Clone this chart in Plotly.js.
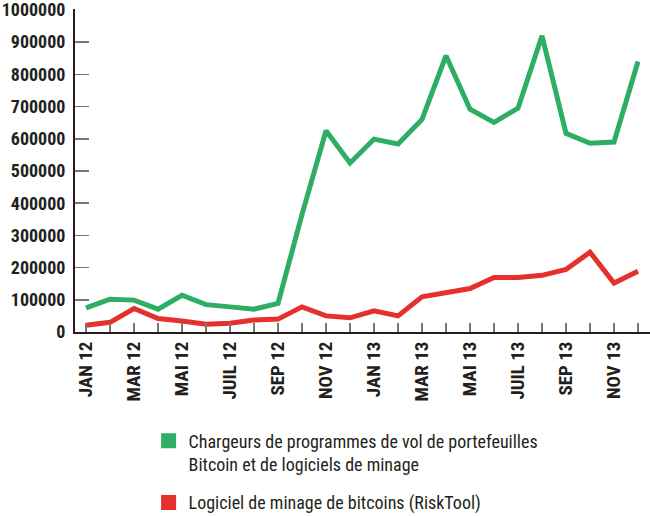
<!DOCTYPE html>
<html>
<head>
<meta charset="utf-8">
<script src="https://cdn.plot.ly/plotly-3.0.1.min.js"></script>
<style>
  html, body { margin: 0; padding: 0; background: white; }
  #chart { width: 650px; height: 516px; }
  #chart text { font-stretch: condensed; }
</style>
</head>
<body>
<div id="chart"></div>
<script>
// Mois (janv. 2012 - déc. 2013)
const months = [
    'JAN 12', 'FEV 12', 'MAR 12', 'AVR 12', 'MAI 12', 'JUIN 12',
    'JUIL 12', 'AOU 12', 'SEP 12', 'OCT 12', 'NOV 12', 'DEC 12',
    'JAN 13', 'FEV 13', 'MAR 13', 'AVR 13', 'MAI 13', 'JUIN 13',
    'JUIL 13', 'AOU 13', 'SEP 13', 'OCT 13', 'NOV 13', 'DEC 13'
];

// Chargeurs de programmes de vol de portefeuilles
const stealers = [
    75000, 102000, 99000, 71000, 114000, 85000,
    78000, 71000, 89000, 365000, 625000, 525000,
    599000, 584000, 660000, 858000, 692000, 651000,
    695000, 920000, 617000, 586000, 590000, 840000
];

// Logiciel de minage (RiskTool)
const miners = [
    21000, 30000, 73000, 42000, 34000, 24000,
    27000, 37000, 40000, 78000, 50000, 44000,
    66000, 50000, 109000, 122000, 135000, 169000,
    169000, 176000, 194000, 248000, 152000, 189000
];

const yTicks = [0, 100000, 200000, 300000, 400000, 500000, 600000, 700000, 800000, 900000, 1000000];

const legendNames = [
    'Chargeurs de programmes de vol de portefeuilles<br>Bitcoin et de logiciels de minage',
    'Logiciel de minage de bitcoins (RiskTool)'
];

const GREEN = '#2eae64';
const RED = '#e5302d';
const FONT = '"Roboto Condensed", "DejaVu Sans Condensed", "Liberation Sans Narrow", Roboto, sans-serif';

const traces = [
    {
        x: months, y: stealers, type: 'scatter', mode: 'lines',
        line: { color: GREEN, width: 5 }, showlegend: false, hoverinfo: 'skip'
    },
    {
        x: months, y: miners, type: 'scatter', mode: 'lines',
        line: { color: RED, width: 5 }, showlegend: false, hoverinfo: 'skip'
    },
    // légende avec des carrés
    {
        x: [null], y: [null], type: 'scatter', mode: 'markers', name: legendNames[0],
        legendgroup: 'a',
        marker: { symbol: 'square', size: 15, color: GREEN }
    },
    {
        x: [null], y: [null], type: 'scatter', mode: 'markers', name: legendNames[1],
        legendgroup: 'b',
        marker: { symbol: 'square', size: 15, color: RED }
    }
];

const layout = {
    width: 650,
    height: 516,
    margin: { l: 75, r: 0, t: 9, b: 184, autoexpand: false },
    plot_bgcolor: 'white',
    paper_bgcolor: 'white',
    font: { family: FONT, color: '#231f20' },
    xaxis: {
        type: 'category',
        categoryorder: 'array',
        categoryarray: months,
        range: [-0.46, 23.5],
        tickvals: months,
        ticktext: months.map((m, i) => (i % 2 ? '' : m)),
        tickangle: -90,
        ticks: 'inside',
        ticklen: 9,
        tickwidth: 1.5,
        tickcolor: '#777777',
        showline: true,
        linecolor: '#231f20',
        linewidth: 2,
        showgrid: false,
        zeroline: false,
        ticklabeloverflow: 'allow',
        tickfont: { family: FONT, size: 19, color: '#231f20', weight: 'bold' }
    },
    yaxis: {
        range: [0, 1003000],
        tickvals: yTicks,
        ticktext: yTicks.map(String),
        ticks: 'inside',
        ticklen: 14,
        tickwidth: 1.5,
        tickcolor: '#777777',
        showline: true,
        linecolor: '#231f20',
        linewidth: 2,
        showgrid: false,
        zeroline: false,
        ticklabeloverflow: 'allow',
        ticklabelstandoff: 4,
        tickfont: { family: FONT, size: 18, color: '#231f20', weight: 'bold' }
    },
    showlegend: true,
    legend: {
        x: 0.128,
        xanchor: 'left',
        y: -0.28,
        yanchor: 'top',
        valign: 'top',
        tracegroupgap: 12,
        font: { family: FONT, size: 18, color: '#231f20' },
        bgcolor: 'rgba(0,0,0,0)'
    }
};

Plotly.newPlot('chart', traces, layout, { displayModeBar: false, staticPlot: true });
</script>
</body>
</html>
